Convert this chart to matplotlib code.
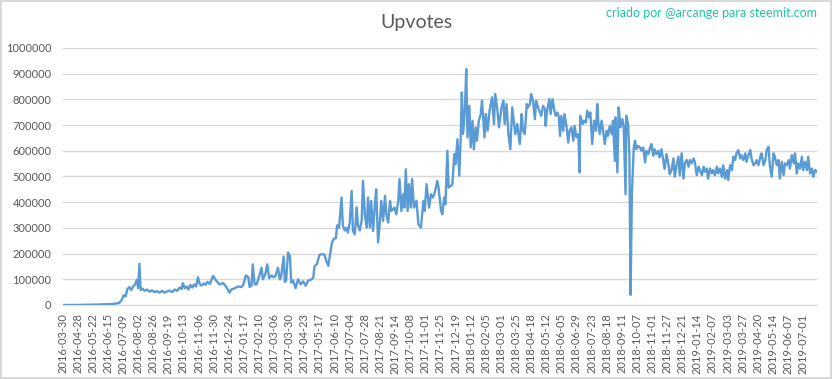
import matplotlib
matplotlib.use("Agg")
import matplotlib.pyplot as plt

# day index (category position) and upvotes in thousands
day = [0, 20, 40, 60, 70, 80, 86, 90, 94, 97, 100, 103, 106, 109, 112, 115, 118, 120,
       122, 124, 127, 130, 134, 138, 142, 146, 150, 154, 158, 162, 166, 170, 174, 178,
       182, 186, 189, 191, 194, 197, 200, 203, 206, 209, 212, 215, 218, 221, 224, 227,
       230, 234, 239, 244, 249, 255, 260, 265, 268, 273, 279, 284, 287, 291, 295, 297,
       300, 302, 305, 308, 312, 316, 318, 322, 325, 328, 332, 335, 338, 342, 345, 347,
       351, 353, 355, 358, 361, 363, 366, 370, 374, 378, 382, 386, 390, 394, 398, 400,
       404, 408, 413, 416, 419, 422, 425, 428, 431, 434, 436, 439, 443, 445, 448, 451,
       453, 456, 459, 461, 464, 467, 469, 472, 475, 477, 480, 483, 485, 488, 490, 493,
       496, 498, 501, 504, 506, 509, 512, 514, 517, 520, 522, 527, 530, 533, 535, 538,
       541, 543, 545, 548, 550, 553, 555, 558, 562, 565, 569, 573, 575, 578, 582, 585,
       588, 591, 595, 597, 601, 603, 606, 608, 611, 613, 617, 619, 622, 624, 627, 630,
       632, 634, 636, 639, 641, 643, 646, 648, 651, 653, 656, 658, 661, 664, 666, 670,
       672, 675, 678, 682, 685, 687, 690, 693, 697, 700, 702, 705, 708, 711, 714, 717,
       719, 722, 726, 729, 731, 734, 737, 739, 742, 744, 747, 750, 752, 755, 758, 760,
       763, 766, 767, 769, 773, 775, 778, 781, 783, 786, 788, 790, 792, 795, 797, 800,
       803, 805, 808, 811, 813, 816, 819, 821, 822, 826, 828, 831, 833, 836, 838, 841,
       844, 847, 849, 851, 853, 856, 858, 861, 864, 866, 869, 872, 874, 877, 878, 881,
       883, 886, 889, 891, 894, 895, 898, 900, 902, 904, 907, 909, 911, 914, 917, 919,
       922, 925, 927, 930, 933, 935, 938, 940, 943, 946, 948, 951, 954, 956, 959, 962,
       964, 967, 970, 972, 975, 978, 980, 983, 986, 988, 991, 994, 996, 999, 1002, 1004,
       1007, 1010, 1012, 1015, 1018, 1020, 1023, 1025, 1028, 1031, 1033, 1036, 1039, 1041,
       1044, 1047, 1049, 1052, 1055, 1057, 1060, 1063, 1065, 1068, 1070, 1073, 1076, 1078,
       1081, 1084, 1086, 1089, 1092, 1094, 1097, 1100, 1102, 1105, 1108, 1110, 1113, 1116,
       1118, 1121, 1123, 1126, 1129, 1131, 1134, 1137, 1139, 1142, 1145, 1147, 1150, 1153,
       1155, 1158, 1161, 1163, 1166, 1168, 1171, 1174, 1176, 1179, 1182, 1184, 1187, 1190,
       1192, 1195, 1198]
upvotes_k = [0, 0, 1, 2, 3, 4, 6, 8, 20, 38, 33, 62, 70, 58, 72, 80, 98, 66,
             160, 58, 64, 55, 60, 52, 57, 50, 54, 48, 55, 48, 53, 56, 50, 60,
             55, 68, 62, 85, 65, 72, 60, 78, 68, 80, 72, 108, 80, 76, 84, 78,
             90, 82, 113, 95, 80, 85, 70, 48, 60, 65, 72, 70, 78, 115, 108, 70,
             75, 158, 80, 80, 110, 145, 100, 120, 158, 105, 115, 108, 112, 145, 100, 110,
             188, 90, 95, 204, 190, 87, 95, 65, 100, 80, 92, 75, 95, 98, 105, 150,
             160, 195, 198, 195, 170, 152, 200, 245, 258, 260, 310, 300, 418, 310, 290, 300,
             282, 320, 444, 290, 275, 380, 310, 290, 330, 483, 350, 301, 418, 301, 405, 288,
             392, 450, 243, 327, 405, 327, 425, 353, 321, 405, 366, 379, 353, 405, 490, 366,
             431, 379, 528, 366, 470, 379, 490, 379, 405, 314, 301, 405, 366, 470, 379, 431,
             418, 437, 483, 457, 366, 353, 418, 392, 600, 457, 464, 470, 587, 548, 645, 503,
             640, 827, 665, 769, 918, 652, 775, 613, 717, 606, 691, 639, 717, 743, 795, 652,
             743, 678, 756, 808, 704, 821, 769, 691, 769, 795, 704, 782, 665, 606, 769, 704,
             665, 704, 626, 743, 678, 665, 782, 769, 782, 821, 795, 723, 795, 769, 749, 736,
             775, 762, 697, 749, 801, 743, 801, 756, 736, 749, 730, 658, 736, 678, 743, 697,
             632, 678, 691, 639, 697, 652, 665, 516, 736, 704, 717, 710, 756, 730, 749, 626,
             717, 678, 782, 704, 665, 717, 684, 626, 678, 658, 697, 665, 717, 561, 730, 516,
             769, 691, 723, 697, 431, 736, 704, 587, 39, 431, 613, 639, 606, 619, 613, 600,
             613, 555, 600, 587, 613, 626, 581, 606, 587, 600, 574, 606, 561, 529, 587, 548,
             509, 525, 570, 499, 544, 577, 505, 590, 492, 551, 564, 538, 564, 551, 570, 557,
             505, 538, 525, 505, 538, 518, 531, 492, 531, 512, 525, 505, 538, 512,
             531, 499, 544, 492, 525, 486, 544, 525, 577, 564, 590, 603, 570, 583,
             564, 590, 557, 583, 603, 570, 544, 551, 564, 544, 577, 590, 544, 564,
             603, 616, 544, 499, 590, 577, 544, 564, 492, 557, 505, 551, 544, 564,
             531, 583, 551, 590, 512, 551, 531, 577, 525, 557, 525, 577, 512, 531,
             499, 525, 518]
upvotes = [v * 1000 for v in upvotes_k]

tick_labels = [
    "2016-03-30", "2016-04-28", "2016-05-22", "2016-06-15", "2016-07-09", "2016-08-02",
    "2016-08-26", "2016-09-19", "2016-10-13", "2016-11-06", "2016-11-30", "2016-12-24",
    "2017-01-17", "2017-02-10", "2017-03-06", "2017-03-30", "2017-04-23", "2017-05-17",
    "2017-06-10", "2017-07-04", "2017-07-28", "2017-08-21", "2017-09-14", "2017-10-08",
    "2017-11-01", "2017-11-25", "2017-12-19", "2018-01-12", "2018-02-05", "2018-03-01",
    "2018-03-25", "2018-04-18", "2018-05-12", "2018-06-05", "2018-06-29", "2018-07-23",
    "2018-08-18", "2018-09-11", "2018-10-07", "2018-11-01", "2018-11-27", "2018-12-21",
    "2019-01-14", "2019-02-07", "2019-03-03", "2019-03-27", "2019-04-20", "2019-05-14",
    "2019-06-07", "2019-07-01"]
tick_pos = [i * 24 for i in range(len(tick_labels))]

plt.rcParams["font.family"] = ["Lato", "DejaVu Sans"]

fig = plt.figure(figsize=(8.32, 3.79), dpi=100)
fig.patch.set_edgecolor("#D9D9D9")
fig.patch.set_linewidth(1.5)
ax = fig.add_axes([0.0752, 0.1953, 0.9068, 0.6781])

ax.plot(day, upvotes, color="#5B9BD5", linewidth=1.7)

ax.set_xlim(0, 1198)
ax.set_ylim(0, 1000000)
ax.set_yticks(range(0, 1000001, 100000))
ax.set_yticklabels([str(v) for v in range(0, 1000001, 100000)])
ax.set_xticks(tick_pos)
ax.set_xticklabels(tick_labels, rotation=90)
ax.tick_params(axis="both", length=0, labelsize=8, labelcolor="#595959")
ax.tick_params(axis="y", pad=8)
ax.tick_params(axis="x", pad=6)
ax.grid(axis="y", color="#D9D9D9", linewidth=1)
ax.set_axisbelow(True)
for side in ["top", "right", "left"]:
    ax.spines[side].set_visible(False)
ax.spines["bottom"].set_color("#D9D9D9")

fig.text(0.5, 0.94, "Upvotes", ha="center", va="center", fontsize=14,
         color="#595959")
fig.text(0.982, 0.965, "criado por @arcange para steemit.com", ha="right", va="center",
         fontsize=9, color="#1FC4A6")

fig.savefig("out.png", dpi=100)
